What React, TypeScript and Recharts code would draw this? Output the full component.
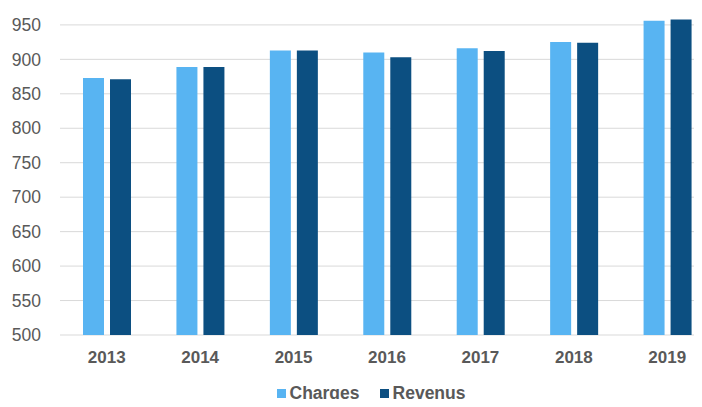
import {
  BarChart,
  Bar,
  XAxis,
  YAxis,
  CartesianGrid,
  Legend,
} from "recharts";

const ANNEES = ["2013", "2014", "2015", "2016", "2017", "2018", "2019"];
const CHARGES = [873, 889, 913, 910, 916, 925, 956];
const REVENUS = [871, 889, 913, 903, 912, 924, 958];
const GRADUATIONS = [500, 550, 600, 650, 700, 750, 800, 850, 900, 950];

const data = ANNEES.map((annee, i) => ({
  annee,
  Charges: CHARGES[i],
  Revenus: REVENUS[i],
}));

const GRIS = "#595959";
const POLICE = "Liberation Sans, Arial, sans-serif";

function Legende({ payload }: any) {
  return (
    <div style={{ display: "flex", justifyContent: "center", gap: 20 }}>
      {(payload || []).map((p: any) => (
        <div key={p.value} style={{ display: "flex", alignItems: "center", gap: 4 }}>
          <span style={{ width: 9, height: 9, background: p.color, display: "inline-block" }} />
          <span
            style={{
              color: GRIS,
              fontSize: 17.5,
              fontWeight: "bold",
              fontFamily: POLICE,
              lineHeight: "20px",
            }}
          >
            {p.value}
          </span>
        </div>
      ))}
    </div>
  );
}

export default function App() {
  return (
    <div style={{ margin: -8, width: 702, height: 407, overflow: "hidden" }}>
      <BarChart
        width={715}
        height={407}
        data={data}
        margin={{ top: 18, right: 1, left: 0, bottom: 10 }}
        barSize={21}
        barGap={6}
      >
        <CartesianGrid vertical={false} stroke="#d9d9d9" syncWithTicks />
        <XAxis
          dataKey="annee"
          axisLine={false}
          tickLine={false}
          height={42}
          tickMargin={10}
          tick={{ fontSize: 17, fontWeight: "bold", fill: GRIS, fontFamily: POLICE }}
        />
        <YAxis
          domain={[500, 960]}
          ticks={GRADUATIONS}
          width={60}
          axisLine={false}
          tickLine={false}
          tickMargin={13}
          tick={{ fontSize: 17.5, fill: GRIS, fontFamily: POLICE }}
        />
        <Legend content={<Legende />} wrapperStyle={{ top: 383, left: 14 }} />
        <Bar dataKey="Charges" fill="#58b4f2" isAnimationActive={false} />
        <Bar dataKey="Revenus" fill="#0c4f81" isAnimationActive={false} />
      </BarChart>
    </div>
  );
}
